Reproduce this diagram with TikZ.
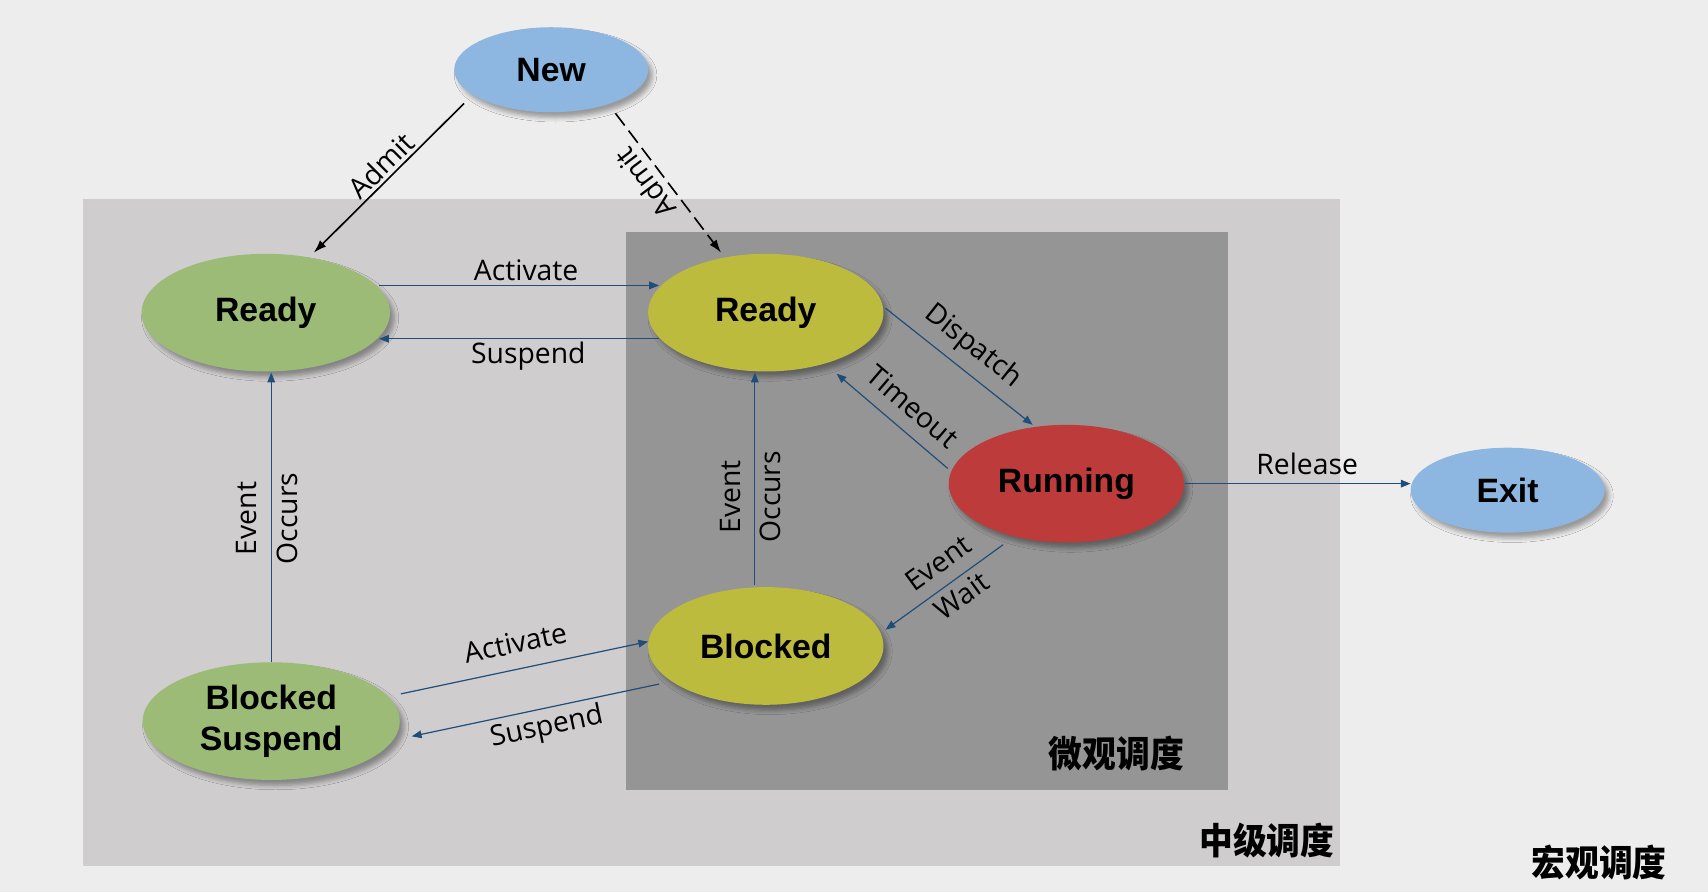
\documentclass[tikz,border=0pt]{standalone}
\usepackage{fontspec}
\setmainfont{Liberation Sans}
\newfontfamily\lblfont{Open Sans}
\newfontfamily\cjk{Noto Sans CJK SC}
\usetikzlibrary{shapes.geometric,arrows.meta,calc,shadows.blur}
\definecolor{bgc}{HTML}{EDEDED}
\definecolor{outerc}{HTML}{CFCDCE}
\definecolor{innerc}{HTML}{959595}
\definecolor{bluec}{HTML}{8DB7E0}
\definecolor{greenc}{HTML}{9BBB77}
\definecolor{olivec}{HTML}{BDBB3D}
\definecolor{redc}{HTML}{BE3B3B}
\definecolor{arrc}{HTML}{1F4E79}
\tikzset{
  state/.style={ellipse, inner sep=0pt, draw=none,
    font=\bfseries\fontsize{31}{38}\selectfont, align=center,
    blur shadow={shadow xshift=4pt, shadow yshift=-5pt, shadow blur radius=4pt, shadow opacity=35}},
  bigstate/.style={state, minimum width=216pt, minimum height=108pt},
  smallstate/.style={state, minimum width=178pt, minimum height=78pt},
  barr/.style={draw=arrc, line width=1.1pt, -{Triangle[length=9pt,width=7pt]}},
  karr/.style={draw=black, line width=1.5pt, -{Latex[length=12pt,width=8pt]}},
  lbl/.style={font=\lblfont\fontsize{26}{37}\selectfont, inner sep=0pt, align=center},
  zh/.style={font=\cjk\bfseries\fontsize{31}{34}\selectfont, inner sep=0pt, yscale=1.08}
}
\begin{document}
\begin{tikzpicture}[x=1pt,y=-1pt]
\useasboundingbox (0,0) rectangle (1568,819);
\fill[bgc] (0,0) rectangle (1568,819);
\fill[outerc] (76,183) rectangle (1230,795);
\fill[innerc] (575,213) rectangle (1127,725);

\node[smallstate, fill=bluec] (new) at (506,64) {New};
\node[bigstate, fill=greenc, minimum width=228pt] (rl) at (244,287) {Ready};
\node[bigstate, fill=olivec] (rr) at (703,287) {Ready};
\node[bigstate, fill=redc] (run) at (979,444) {Running};
\node[smallstate, fill=bluec] (exit) at (1384,450) {Exit};
\node[bigstate, fill=olivec] (bl) at (703,593) {Blocked};
\node[bigstate, fill=greenc, minimum width=236pt] (bs) at (249,662) {Blocked\\Suspend};

% connectors
\draw[karr] ($(new)+(-80,31)$) -- ($(rl)+(44,-55)$);
\draw[karr, dash pattern=on 14pt off 6pt] ($(new)+(59,40)$) -- ($(rr)+(-41,-55)$);
\draw[barr] ($(rl)+(104,-25)$) -- ($(rr)+(-98,-25)$);
\draw[barr] ($(rr)+(-98,24)$) -- ($(rl)+(104,24)$);
\draw[barr] ($(rr)+(110,-4)$) -- ($(run)+(-31,-54)$);
\draw[barr] ($(run)+(-109,-14)$) -- ($(rr)+(65,56)$);
\draw[barr] ($(run)+(-58,56)$) -- ($(bl)+(110,-15)$);
\draw[barr] ($(run)+(109,0)$) -- ($(exit)+(-89,-6)$);
\draw[barr] ($(bl)+(-10,-56)$) -- ($(rr)+(-10,55)$);
\draw[barr] ($(bs)+(0,-54)$) -- ($(rl)+(5,55)$);
\draw[barr] ($(bs)+(119,-25)$) -- ($(bl)+(-108,-4)$);
\draw[barr] ($(bl)+(-98,35)$) -- ($(bs)+(129,14)$);

% labels
\node[lbl, rotate=45] (l1) at (350,152) {Admit};
\node[lbl, rotate=127] (l2) at (592,168) {Admit};
\node[lbl] (l3) at (483,248) {Activate};
\node[lbl] (l4) at (485,327) {Suspend};
\node[lbl, rotate=-38.4] (l5) at (893,318) {Dispatch};
\node[lbl, rotate=-40.5] (l6) at (838,373) {Timeout};
\node[lbl, rotate=35.8] (l7) at (872,532) {Event\\Wait};
\node[lbl] (l8) at (1200,426) {Release};
\node[lbl, rotate=90] (l9) at (245,476) {Event\\Occurs};
\node[lbl, rotate=90] (l10) at (689,456) {Event\\Occurs};
\node[lbl, rotate=11.9] (l11) at (473,590) {Activate};
\node[lbl, rotate=12] (l12) at (502,668) {Suspend};

\node[zh] (z1) at (1025,692) {微观调度};
\node[zh] (z2) at (1163,772) {中级调度};
\node[zh] (z3) at (1468,792) {宏观调度};
\end{tikzpicture}
\end{document}
